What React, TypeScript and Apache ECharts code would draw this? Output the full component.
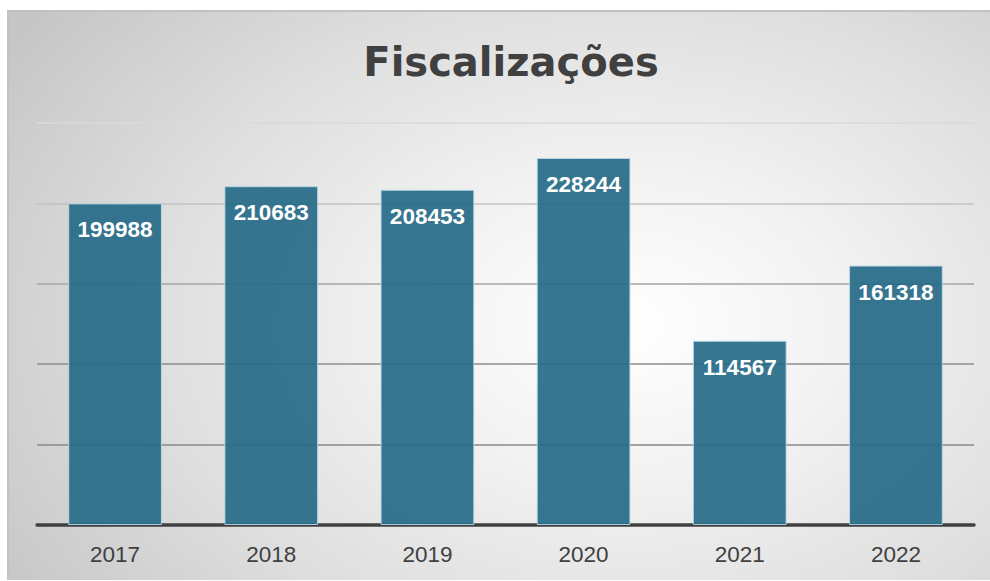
import React, { useEffect, useRef } from "react";
import * as echarts from "echarts";

const titleText = "Fiscalizações";
const categories = ["2017", "2018", "2019", "2020", "2021", "2022"];
const values = [199988, 210683, 208453, 228244, 114567, 161318];
const yMax = 250000;
const yInterval = 50000;

export default function App() {
  const ref = useRef<HTMLDivElement>(null);
  useEffect(() => {
    if (!ref.current) return;
    const chart = echarts.init(ref.current, null, { renderer: "svg" });
    chart.setOption({
      animation: false,
      title: {
        text: titleText,
        left: 506,
        top: 37,
        textAlign: "center",
        textStyle: {
          fontFamily: "DejaVu Sans",
          fontWeight: "bold",
          fontSize: 40,
          color: "#404040",
        },
      },
      grid: { left: 37, right: 16, top: 123, bottom: 56, containLabel: false },
      xAxis: {
        type: "category",
        data: categories,
        axisLine: { lineStyle: { color: "#404040", width: 3.5 } },
        axisTick: { show: false },
        axisLabel: {
          color: "#404040",
          fontFamily: "Liberation Sans",
          fontSize: 22.5,
          margin: 18,
        },
      },
      yAxis: {
        type: "value",
        min: 0,
        max: yMax,
        interval: yInterval,
        axisLabel: { show: false },
        axisLine: { show: false },
        axisTick: { show: false },
        splitLine: {
          lineStyle: {
            color: ["#888888", "#888888", "#8c8c8c", "#a4a4a4", "#c2c2c2", "#dadada"],
            width: 1.5,
          },
        },
      },
      series: [
        {
          type: "bar",
          data: values,
          barWidth: "60%",
          itemStyle: {
            color: "rgba(38,106,136,0.92)",
            borderColor: "rgba(185,215,228,0.9)",
            borderWidth: 1,
          },
          label: {
            show: true,
            position: "insideTop",
            distance: 15,
            color: "#ffffff",
            fontFamily: "Liberation Sans",
            fontWeight: "bold",
            fontSize: 22.5,
          },
        },
      ],
    });
    return () => chart.dispose();
  }, []);
  return (
    <div style={{ position: "fixed", left: 0, top: 0, width: 990, height: 581, background: "#ffffff" }}>
      <div
        style={{
          position: "absolute",
          left: 7,
          top: 10,
          width: 983,
          height: 570,
          boxSizing: "border-box",
          borderTop: "2px solid #c2c2c2",
          borderLeft: "2px solid #c2c2c2",
          background:
            "radial-gradient(ellipse 75% 90% at 63% 55%, #ffffff 0%, #f2f2f2 30%, #dedede 65%, #c6c6c6 100%)",
        }}
      />
      <div ref={ref} style={{ position: "absolute", left: 0, top: 0, width: 990, height: 581 }} />
    </div>
  );
}
